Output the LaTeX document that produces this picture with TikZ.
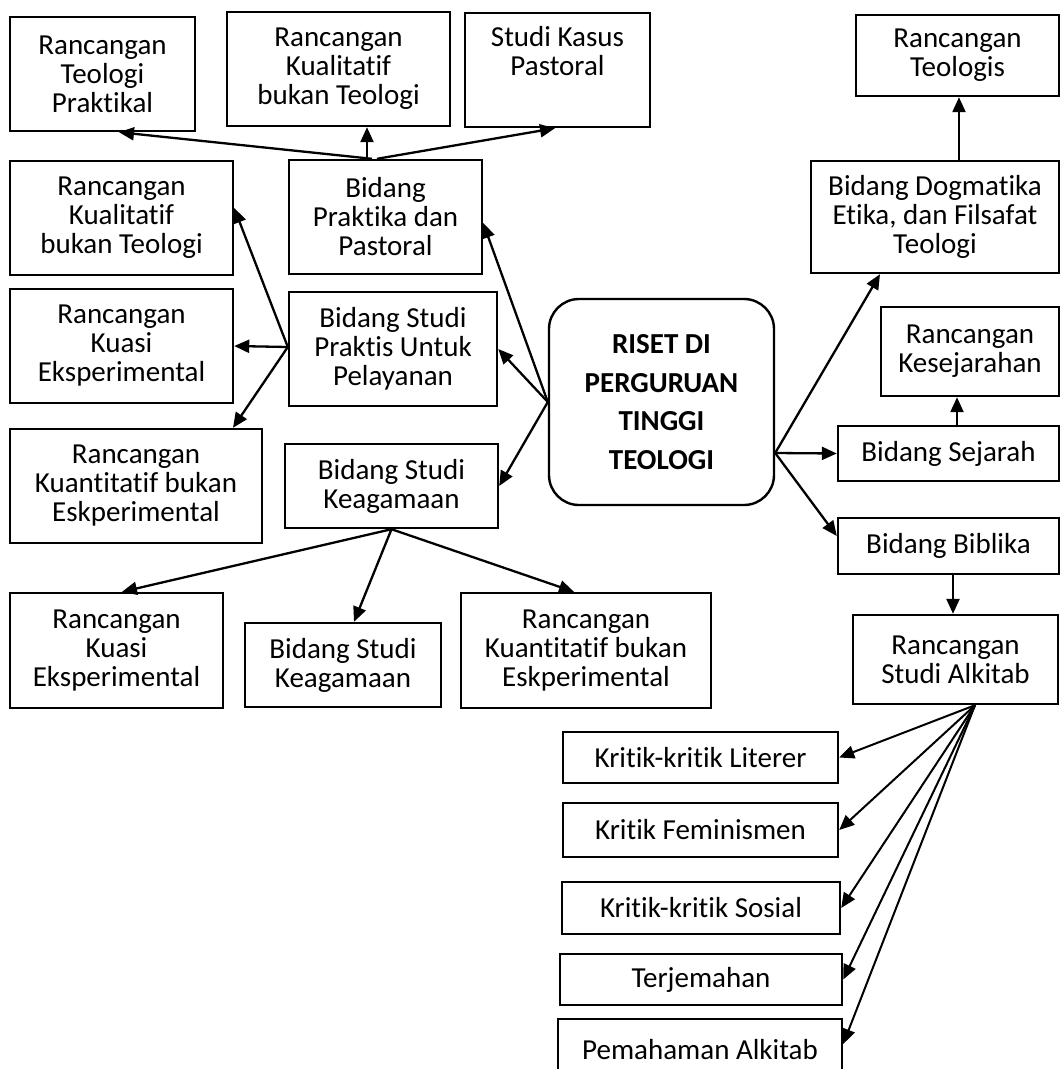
\documentclass[tikz,border=0pt]{standalone}
\usepackage{fontspec}
\setmainfont{Carlito}[Ligatures={NoCommon}]
\usetikzlibrary{arrows.meta}
\begin{document}
\begin{tikzpicture}[x=1pt,y=-1pt,
  box/.style={draw, line width=2.4pt, align=center, inner sep=0pt,
              font=\fontsize{29}{29}\selectfont},
  hub/.style={box, rounded corners=30pt, font=\fontsize{29}{38.5}\selectfont\bfseries},
  conn/.style={line width=2.3pt, -{Triangle[length=15pt,width=13pt]}},
  thin/.style={line width=2pt, -{Triangle[length=15pt,width=13pt]}}]
\clip (0,0) rectangle (1061,1069);
% left cluster
\node[box, minimum width=185pt, minimum height=114pt] (tp)  at (102.5,74) {Rancangan\\Teologi\\Praktikal};
\node[box, minimum width=223pt, minimum height=114pt] (kq1) at (338.5,69) {Rancangan\\Kualitatif\\bukan Teologi};
\node[box, minimum width=185pt, minimum height=114pt] (sk)  at (557.5,70) {Studi Kasus\\Pastoral\\\strut};
\node[box, minimum width=223pt, minimum height=114pt] (kq2) at (121.5,218) {Rancangan\\Kualitatif\\bukan Teologi};
\node[box, minimum width=193pt, minimum height=114pt] (pp)  at (385.5,217) {Bidang\\Praktika dan\\Pastoral};
\node[box, minimum width=223pt, minimum height=114pt] (ke1) at (121.5,346) {Rancangan\\Kuasi\\Eksperimental};
\node[box, minimum width=208pt, minimum height=114pt] (sp)  at (393,349) {Bidang Studi\\Praktis Untuk\\Pelayanan};
\node[box, minimum width=252pt, minimum height=114pt] (kt1) at (136,486) {Rancangan\\Kuantitatif bukan\\Eskperimental};
\node[box, minimum width=213pt, minimum height=84pt]  (sk1) at (391.5,486) {Bidang Studi\\Keagamaan};
\node[box, minimum width=213pt, minimum height=115pt] (ke2) at (116.5,650.5) {Rancangan\\Kuasi\\Eksperimental};
\node[box, minimum width=196pt, minimum height=84pt]  (sk2) at (343,665) {Bidang Studi\\Keagamaan};
\node[box, minimum width=250pt, minimum height=115pt] (kt2) at (586,650.5) {Rancangan\\Kuantitatif bukan\\Eskperimental};
% hub
\node[hub, minimum width=225pt, minimum height=206pt] (riset) at (661.5,402) {RISET DI\\PERGURUAN\\TINGGI\\TEOLOGI};
% right cluster
\node[box, minimum width=203pt, minimum height=81pt]  (rt) at (957.5,55.5) {Rancangan\\Teologis};
\node[box, minimum width=248pt, minimum height=112pt] (dg) at (935,217) {Bidang Dogmatika\\Etika, dan Filsafat\\Teologi};
\node[box, minimum width=178pt, minimum height=89pt]  (ks) at (970,351.5) {Rancangan\\Kesejarahan};
\node[box, minimum width=221pt, minimum height=55pt]  (sj) at (948.5,453.5) {Bidang Sejarah};
\node[box, minimum width=221pt, minimum height=56pt]  (bb) at (948.5,546) {Bidang Biblika};
\node[box, minimum width=205pt, minimum height=89pt]  (sa) at (955.5,659.5) {Rancangan\\Studi Alkitab};
\node[box, minimum width=275pt, minimum height=51pt]  (kl) at (700.5,757.5) {Kritik-kritik Literer};
\node[box, minimum width=275pt, minimum height=54pt]  (kf) at (700.5,830) {Kritik Feminismen};
\node[box, minimum width=278pt, minimum height=52pt]  (ko) at (701,908) {Kritik-kritik Sosial};
\node[box, minimum width=282pt, minimum height=51pt]  (tj) at (701,979.5) {Terjemahan};
\node[box, minimum width=284pt, minimum height=61pt]  (pa) at (700,1049.5) {Pemahaman Alkitab};
% connectors: Praktika
\draw[conn] ([xshift=-13.5pt]pp.north) -- ([xshift=16.5pt]tp.south);
\draw[conn] ([xshift=-18.5pt]pp.north) -- ([xshift=28.5pt]kq1.south);
\draw[conn] ([xshift=-8.5pt]pp.north) -- ([xshift=-2.5pt]sk.south);
% hub left
\draw[conn] (riset.west) -- ([yshift=-6pt]pp.east);
\draw[conn] (riset.west) -- (sp.east);
\draw[conn] (riset.west) -- (sk1.east);
% Studi Praktis
\draw[conn] ([yshift=2pt]sp.west) -- ([yshift=10pt]kq2.east);
\draw[conn] ([yshift=2pt]sp.west) -- (ke1.east);
\draw[conn] ([yshift=2pt]sp.west) -- ([xshift=97pt]kt1.north);
% Keagamaan
\draw[conn] (sk1.south) -- ([xshift=5.5pt]ke2.north);
\draw[conn] (sk1.south) -- ([xshift=11pt]sk2.north);
\draw[conn] (sk1.south) -- ([xshift=-12pt]kt2.north);
% hub right
\draw[conn] ([yshift=-51pt]riset.east) -- ([xshift=-55pt]dg.south);
\draw[conn] ([yshift=-51pt]riset.east) -- (sj.west);
\draw[conn] ([yshift=-51pt]riset.east) -- ([yshift=10pt]bb.west);
\draw[conn] ([xshift=24pt]dg.north) -- ([xshift=1.5pt]rt.south);
\draw[conn] ([xshift=8.5pt]sj.north) -- ([xshift=-13pt]ks.south);
\draw[conn] ([xshift=4.5pt]bb.south) -- ([xshift=-2.5pt]sa.north);
% Studi Alkitab fan
\draw[thin] ([xshift=19.5pt]sa.south) -- (kl.east);
\draw[thin] ([xshift=19.5pt]sa.south) -- (kf.east);
\draw[thin] ([xshift=19.5pt]sa.south) -- (ko.east);
\draw[thin] ([xshift=19.5pt]sa.south) -- (tj.east);
\draw[thin] ([xshift=19.5pt]sa.south) -- ([yshift=5.5pt]pa.east);
\end{tikzpicture}
\end{document}
